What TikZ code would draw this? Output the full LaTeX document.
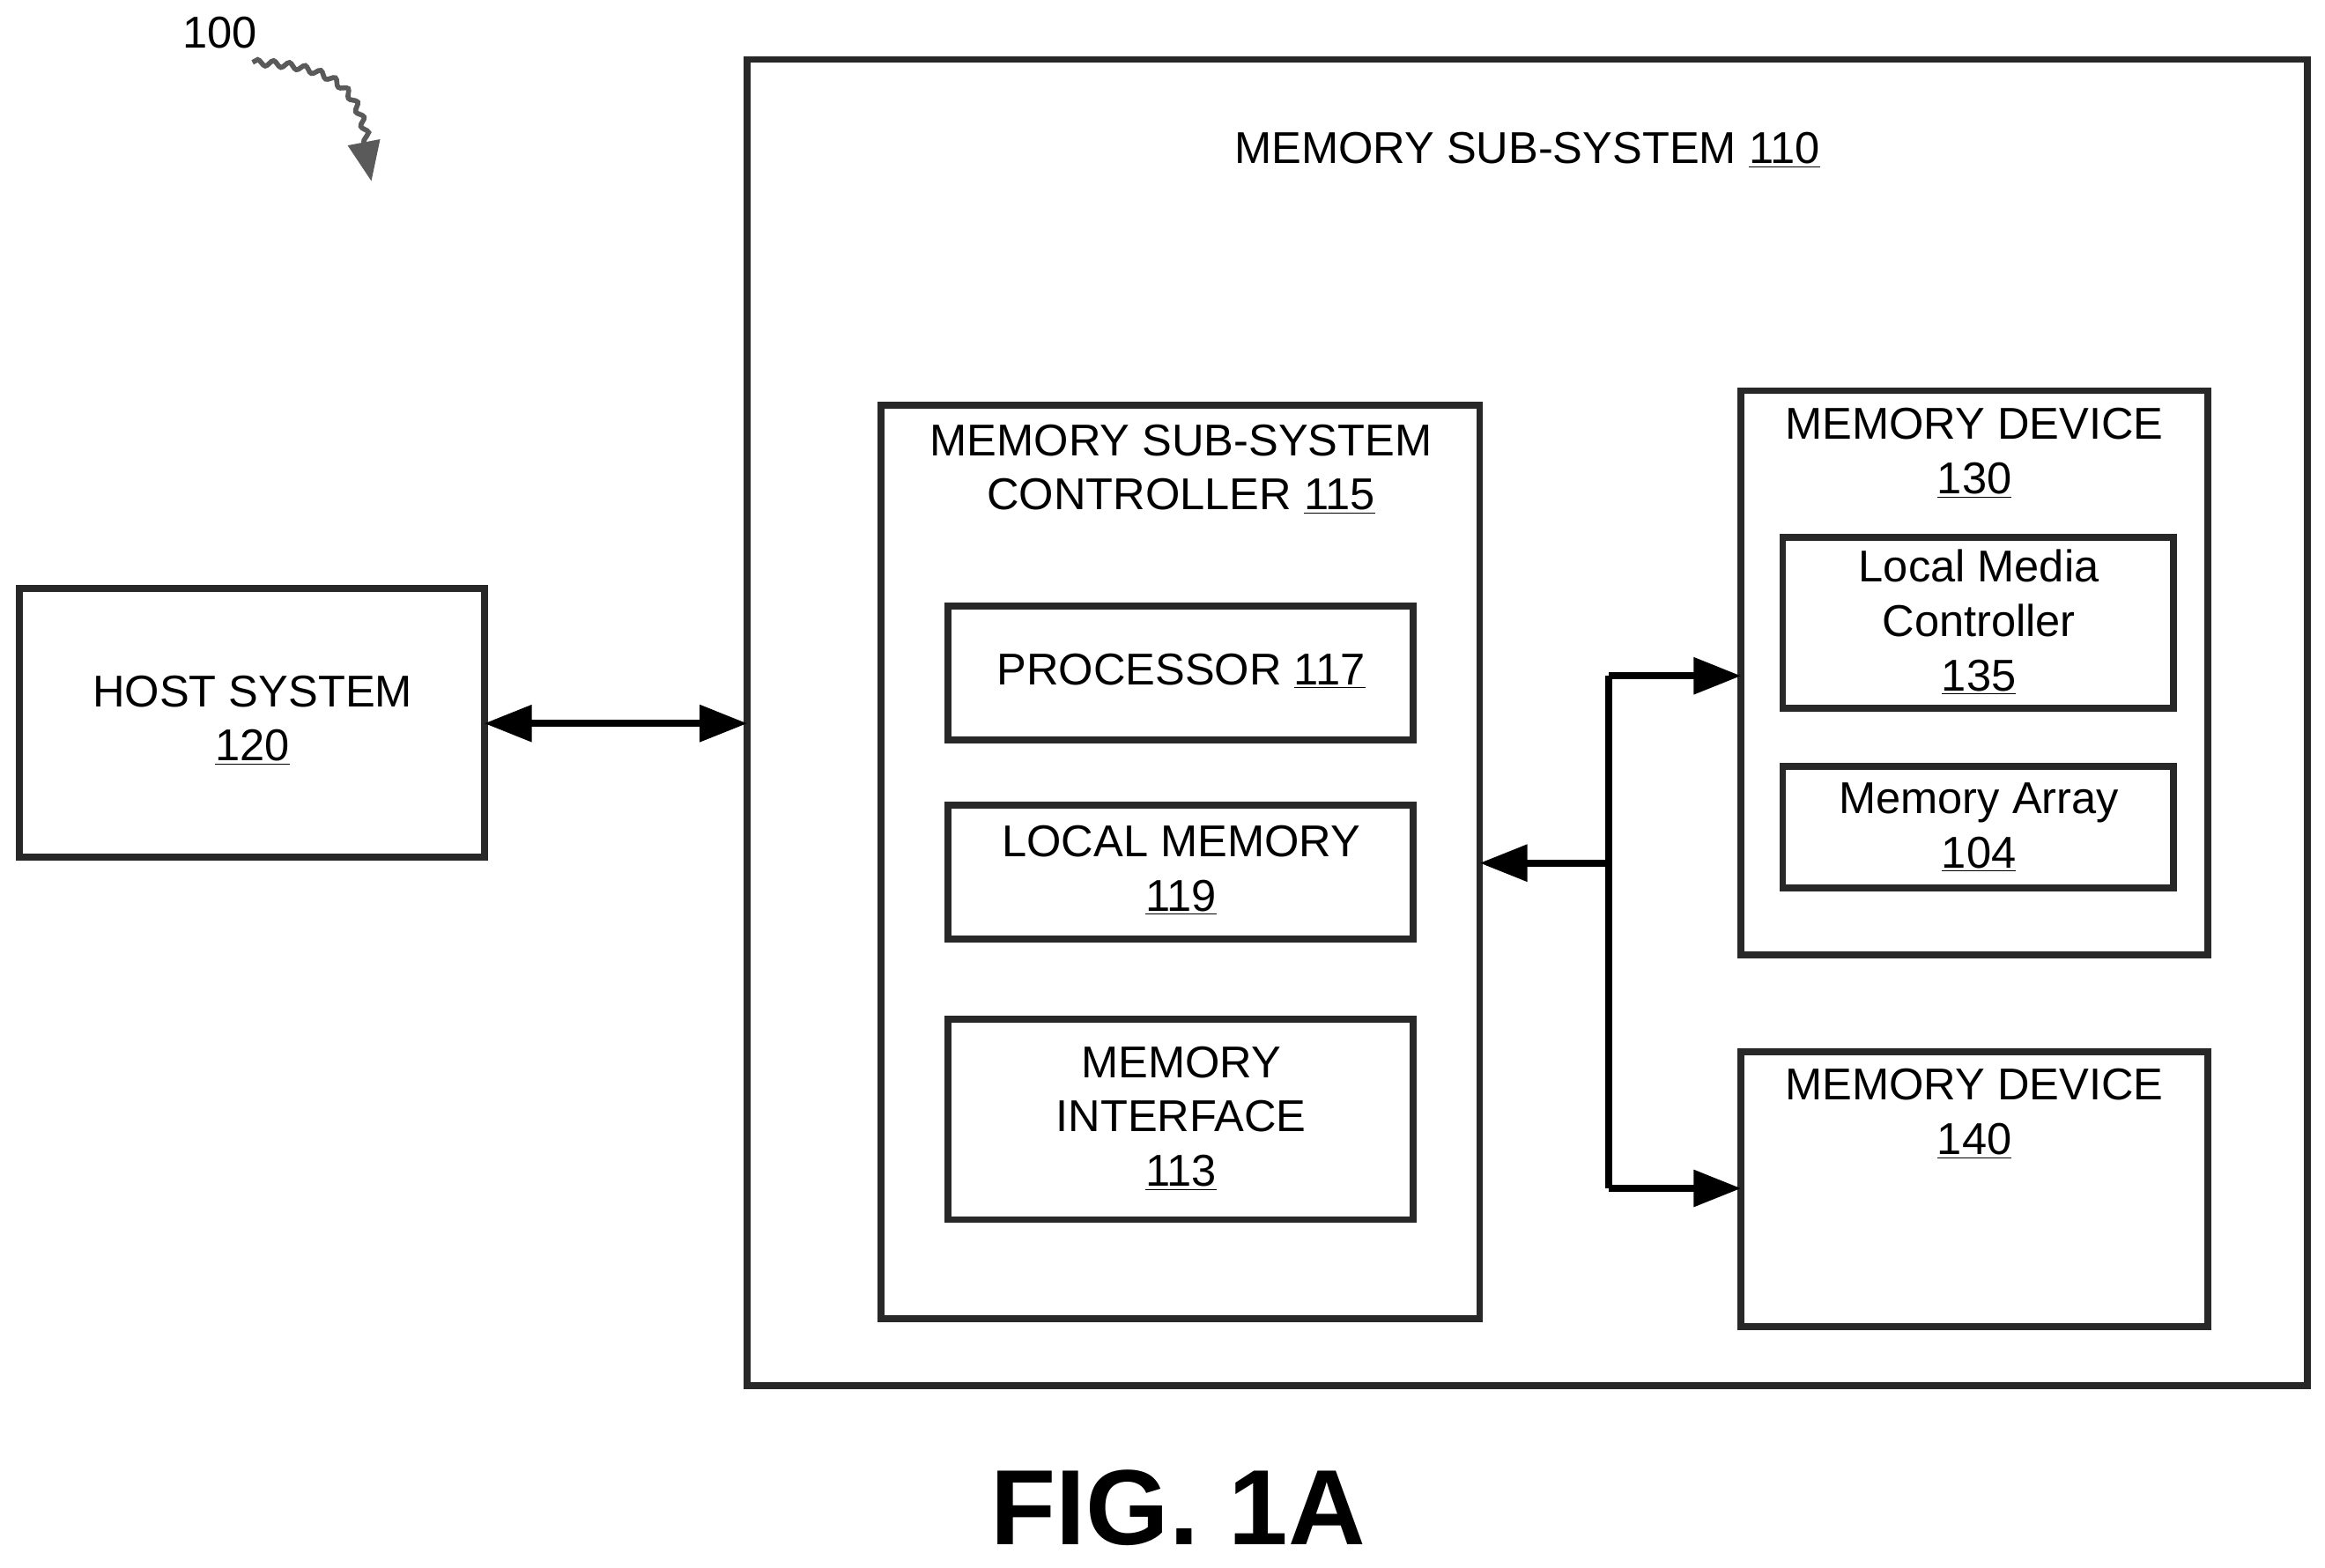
\documentclass[tikz,border=0pt]{standalone}
\usepackage{fontspec}
\setmainfont{Liberation Sans}
\usetikzlibrary{arrows.meta,decorations.pathmorphing}
\tikzset{every picture/.style={line width=0.75pt}}
\tikzset{
  box/.style={draw, line width=3.5pt, color={rgb,255:red,40;green,40;blue,40}, text=black},
  lbl/.style={font=\fontsize{22.5}{27.5}\selectfont, align=center, text=black},
  link/.style={line width=3.5pt, {Triangle[length=24pt,width=18pt]}-{Triangle[length=24pt,width=18pt]}},
  onearrow/.style={line width=3.5pt, -{Triangle[length=24pt,width=18pt]}}
}
\newcommand{\rn}[1]{\underline{#1}}
\begin{document}
\begin{tikzpicture}[x=0.75pt,y=0.75pt,yscale=-1,xscale=1]
\useasboundingbox (0,0) rectangle (1565,1055);

%Outer box
\draw [box] (503,40) rectangle (1553,933);
\node [lbl] (mss) at (1028,101) {MEMORY SUB-SYSTEM \rn{110}};
\coordinate (mssleft) at (503,487);

%Host
\draw [box] (13,396) rectangle (326,577);
\node [lbl] (host) at (170,485) {HOST SYSTEM\\\rn{120}};
\coordinate (hostright) at (326,487);

%Controller
\draw [box] (593,273) rectangle (996,888);
\node [lbl] (ctl) at (795,316) {MEMORY SUB-SYSTEM\\CONTROLLER \rn{115}};
\draw [box] (638,408) rectangle (951,498);
\node [lbl] (proc) at (795,452) {PROCESSOR \rn{117}};
\draw [box] (638,542) rectangle (951,632);
\node [lbl] (lmem) at (795,586) {LOCAL MEMORY\\\rn{119}};
\draw [box] (638,686) rectangle (951,821);
\node [lbl] (mif) at (795,753) {MEMORY\\INTERFACE\\\rn{113}};

%Memory devices
\draw [box] (1172,263) rectangle (1486,643);
\node [lbl] (dev1) at (1329,305) {MEMORY DEVICE\\\rn{130}};
\draw [box] (1200,362) rectangle (1463,477);
\node [lbl] (lmc) at (1332,419) {Local Media\\Controller\\\rn{135}};
\draw [box] (1200,516) rectangle (1463,598);
\node [lbl] (arr) at (1332,557) {Memory Array\\\rn{104}};
\draw [box] (1172,708) rectangle (1486,893);
\node [lbl] (dev2) at (1329,750) {MEMORY DEVICE\\\rn{140}};

%Connectors
\draw [link] (hostright) -- (mssleft);
\coordinate (ctlright) at (996,581);
\coordinate (bus) at (1083,581);
\coordinate (bustop) at (1083,455);
\coordinate (busbot) at (1083,800);
\coordinate (dev1left) at (1172,455);
\coordinate (dev2left) at (1172,800);
\draw [line width=3.5pt] (bustop) -- (busbot);
\draw [onearrow] (bus) -- (ctlright);
\draw [onearrow] (bustop) -- (dev1left);
\draw [onearrow] (busbot) -- (dev2left);

%Reference numeral and title
\node [lbl] (ref) at (148,22) {100};
\coordinate (refend) at (250,122);
\draw [line width=2.5pt, color={rgb,255:red,90;green,90;blue,90}, decorate, decoration={snake,amplitude=1.5pt,segment length=8pt,post length=20pt}, -{Triangle[length=20pt,width=16pt]}] (170,42) .. controls (240,45) and (240,70) .. (refend);
\node [font=\bfseries\fontsize{54}{60}\selectfont] (fig) at (793,1015) {FIG. 1A};
\end{tikzpicture}
\end{document}
